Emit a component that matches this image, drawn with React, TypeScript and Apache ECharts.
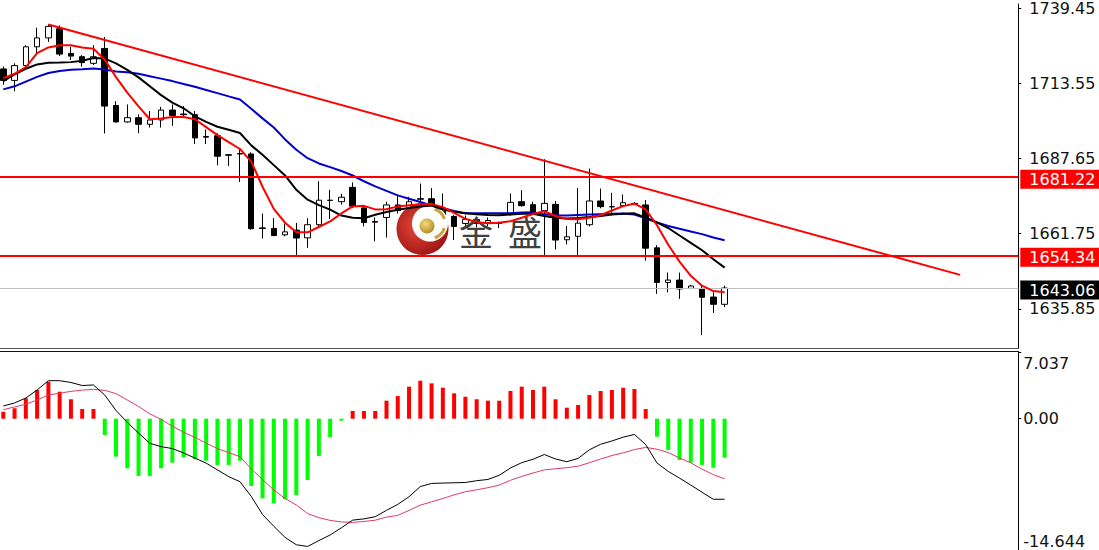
import React, { useEffect, useRef } from "react";
import * as echarts from "echarts";

// ---- price candles (index 0..64) ----
const opens = [
  1718.48, 1714.53, 1719.63, 1726.10, 1729.16, 1732.32, 1723.82, 1722.69, 1720.41, 1725.52,
  1705.89, 1700.24, 1701.70, 1699.42, 1700.92, 1704.32, 1702.96, 1702.72, 1695.24, 1695.47,
  1688.94, 1689.35, 1689.21, 1663.76, 1663.59, 1661.38, 1662.99, 1660.34, 1664.85, 1673.22,
  1672.78, 1677.71, 1670.64, 1665.97, 1667.33, 1671.66, 1669.38, 1673.80, 1673.80, 1669.38,
  1667.68, 1665.29, 1666.65, 1665.63, 1665.46, 1668.80, 1672.78, 1671.76, 1669.72, 1671.86,
  1659.68, 1660.87, 1664.85, 1673.02, 1671.08, 1671.42, 1672.20, 1671.66, 1656.89, 1644.98,
  1645.80, 1642.94, 1642.74, 1639.95, 1637.46,
];
const highs = [
  1719.29, 1720.41, 1726.64, 1732.66, 1733.79, 1733.45, 1726.10, 1723.24, 1726.64, 1729.50,
  1707.38, 1706.23, 1702.82, 1703.98, 1705.44, 1706.23, 1705.68, 1703.98, 1697.62, 1696.36,
  1689.21, 1691.15, 1689.79, 1668.70, 1667.10, 1665.29, 1665.46, 1667.10, 1679.82, 1676.86,
  1675.50, 1679.41, 1671.08, 1667.34, 1672.78, 1675.06, 1674.48, 1679.01, 1677.44, 1675.61,
  1668.26, 1668.01, 1667.68, 1667.34, 1665.97, 1675.61, 1676.76, 1672.78, 1687.41, 1673.02,
  1664.44, 1677.44, 1684.18, 1677.30, 1675.84, 1675.27, 1672.61, 1673.36, 1657.81, 1648.38,
  1648.38, 1644.20, 1644.43, 1641.58, 1643.86,
];
const lows = [
  1713.03, 1710.79, 1718.71, 1723.24, 1727.80, 1722.90, 1721.54, 1719.29, 1719.84, 1696.26,
  1700.00, 1700.00, 1696.36, 1698.30, 1698.30, 1698.88, 1701.70, 1692.61, 1692.61, 1685.27,
  1685.03, 1679.58, 1663.15, 1660.09, 1660.87, 1660.87, 1653.79, 1656.89, 1664.27, 1666.83,
  1671.76, 1670.57, 1664.27, 1659.17, 1660.43, 1668.70, 1668.36, 1671.08, 1670.23, 1665.80,
  1659.58, 1663.94, 1663.94, 1664.27, 1663.70, 1668.01, 1671.08, 1668.36, 1653.90, 1656.35,
  1658.05, 1654.19, 1664.27, 1670.50, 1668.01, 1671.08, 1671.59, 1652.47, 1641.03, 1641.58,
  1639.33, 1642.67, 1626.85, 1634.50, 1636.54,
];
const closes = [
  1714.53, 1719.63, 1726.10, 1729.16, 1733.11, 1723.58, 1722.90, 1720.65, 1722.69, 1705.68,
  1700.24, 1701.70, 1699.42, 1700.92, 1704.32, 1702.48, 1702.72, 1694.73, 1695.00, 1688.43,
  1688.77, 1689.21, 1663.49, 1663.59, 1661.14, 1662.40, 1660.27, 1664.85, 1673.29, 1673.29,
  1674.31, 1671.25, 1665.63, 1665.74, 1671.66, 1669.72, 1672.78, 1673.63, 1671.42, 1667.10,
  1664.27, 1666.65, 1665.29, 1666.31, 1665.29, 1672.54, 1671.42, 1668.80, 1672.20, 1659.58,
  1660.70, 1665.40, 1673.02, 1671.08, 1670.98, 1672.44, 1672.10, 1656.79, 1644.98, 1645.80,
  1642.74, 1643.76, 1639.88, 1637.46, 1643.06,
];

// ---- moving averages ----
const maFast = [
  1715.31, 1716.81, 1719.12, 1723.89, 1725.86, 1726.64, 1726.64, 1725.86, 1725.45, 1721.67,
  1715.65, 1710.31, 1705.58, 1701.16, 1701.39, 1701.91, 1701.91, 1701.16, 1698.43, 1695.68,
  1693.30, 1690.91, 1686.59, 1677.92, 1670.30, 1665.53, 1662.23, 1662.23, 1664.07, 1666.01,
  1668.73, 1671.15, 1671.35, 1670.13, 1670.16, 1671.11, 1671.52, 1671.89, 1672.03, 1670.91,
  1668.97, 1666.89, 1665.74, 1665.40, 1665.53, 1666.08, 1667.23, 1668.56, 1669.48, 1667.85,
  1666.83, 1666.76, 1667.27, 1668.12, 1669.75, 1671.25, 1672.10, 1670.16, 1664.68, 1657.98,
  1652.16, 1647.26, 1643.86, 1642.02, 1641.58,
];
const maMid = [
  1714.29, 1716.57, 1718.54, 1720.04, 1720.59, 1720.65, 1720.82, 1721.30, 1722.25, 1722.05,
  1720.38, 1718.17, 1715.58, 1712.52, 1709.46, 1706.87, 1704.93, 1702.18, 1700.24, 1698.57,
  1697.52, 1696.43, 1692.17, 1688.91, 1685.37, 1681.80, 1676.86, 1673.46, 1671.59, 1670.06,
  1668.02, 1667.27, 1667.10, 1668.29, 1669.24, 1669.99, 1670.57, 1671.15, 1671.45, 1670.09,
  1669.28, 1668.76, 1668.49, 1668.22, 1668.08, 1668.36, 1668.63, 1668.59, 1667.85, 1667.27,
  1666.96, 1667.20, 1667.50, 1667.88, 1668.39, 1668.59, 1668.76, 1667.27, 1665.67, 1663.73,
  1661.14, 1658.63, 1656.07, 1652.98, 1650.08,
];
const maSlow = [
  1711.43, 1712.49, 1714.12, 1715.75, 1717.08, 1717.79, 1718.20, 1718.37, 1718.61, 1718.31,
  1717.62, 1717.35, 1716.84, 1715.99, 1715.14, 1714.29, 1713.30, 1712.32, 1711.23, 1710.14,
  1709.02, 1707.93, 1704.76, 1701.46, 1698.30, 1694.22, 1690.64, 1687.75, 1685.95, 1684.69,
  1683.33, 1681.80, 1679.82, 1678.05, 1676.52, 1674.96, 1673.80, 1672.68, 1671.52, 1670.53,
  1669.58, 1668.80, 1668.80, 1668.80, 1668.80, 1668.80, 1669.04, 1669.17, 1668.42, 1668.12,
  1668.05, 1668.22, 1668.36, 1668.49, 1668.59, 1668.73, 1668.39, 1667.06, 1665.63, 1664.44,
  1663.46, 1662.50, 1661.62, 1660.43, 1659.51,
];

// ---- MACD panel ----
const macdHist = [
  0.74, 1.10, 2.15, 3.03, 3.90, 2.85, 2.05, 1.02, 1.02, -1.72,
  -4.01, -5.23, -6.04, -6.04, -5.23, -4.64, -4.07, -4.28, -4.43, -4.88,
  -4.88, -4.43, -7.10, -8.40, -8.92, -8.50, -8.05, -6.47, -3.93, -1.96,
  -0.21, 0.81, 0.81, 0.81, 1.90, 2.39, 3.38, 4.01, 3.73, 3.27,
  2.68, 2.32, 2.05, 1.90, 1.90, 2.92, 3.38, 3.03, 3.38, 2.05,
  1.16, 1.45, 2.50, 2.92, 3.03, 3.27, 3.13, 1.02, -1.90, -3.30,
  -4.36, -4.64, -4.88, -5.17, -4.11,
];
const macdLine = [
  1.34, 1.66, 2.18, 3.03, 4.01, 4.01, 3.82, 3.50, 3.56, 2.50,
  0.87, -0.39, -1.51, -2.60, -2.95, -3.15, -3.62, -4.15, -4.69, -5.40,
  -6.11, -6.65, -8.20, -10.11, -11.35, -12.52, -13.30, -13.48, -12.86, -12.27,
  -11.51, -10.70, -10.57, -10.34, -9.67, -9.04, -8.23, -7.16, -6.83, -6.79,
  -6.76, -6.73, -6.54, -6.41, -5.97, -5.20, -4.64, -4.28, -3.78, -4.25,
  -4.54, -4.19, -3.28, -2.70, -2.35, -1.95, -1.66, -2.73, -4.67, -5.56,
  -6.27, -7.00, -7.76, -8.50, -8.50,
];
const signalLine = [
  0.95, 1.24, 1.52, 1.98, 2.50, 2.69, 2.88, 3.02, 3.09, 2.99,
  2.65, 1.97, 1.29, 0.51, -0.07, -0.79, -1.43, -1.97, -2.58, -3.15,
  -3.57, -4.01, -5.28, -6.43, -7.51, -8.42, -9.10, -10.01, -10.44, -10.73,
  -10.89, -10.94, -10.84, -10.71, -10.38, -10.20, -9.68, -9.12, -8.77, -8.42,
  -8.03, -7.71, -7.50, -7.28, -7.00, -6.50, -6.09, -5.73, -5.40, -5.28,
  -5.17, -5.01, -4.65, -4.25, -3.89, -3.60, -3.26, -3.03, -3.22, -3.57,
  -4.14, -4.66, -5.32, -5.90, -6.34,
];

// ---- axes / levels ----
const priceTicks = [1635.85, 1661.75, 1687.65, 1713.55, 1739.45];
const macdTicks = [-14.644, 0, 7.037];
const resistanceLevel = 1681.22;
const supportLevel = 1654.34;
const lastPrice = 1643.06;
const trendStart = [4, 1733.79];
const trendEnd = [84.9, 1647.6];

const PRICE_MIN = 1622.42;
const PRICE_MAX = 1740.83;
const MACD_MIN = -14.644;
const MACD_MAX = 7.037;
const X_MIN = -0.293;
const X_MAX = 90.06;

const FONT = "'DejaVu Sans', Verdana, sans-serif";
const CJK = "'Noto Sans CJK SC', sans-serif";

export default function App() {
  const ref = useRef<HTMLDivElement>(null);

  useEffect(() => {
    if (!ref.current) return;
    const chart = echarts.init(ref.current, undefined, { renderer: "svg" });

    const candleRows = opens.map((o, i) => [i, o, closes[i], lows[i], highs[i]]);
    const toPts = (arr: number[]) => arr.map((v, i) => [i, v]);

    const tagLabel = (bg: string) => ({
      show: true,
      position: "end",
      distance: 2,
      formatter: (p: any) => Number(p.value).toFixed(2),
      backgroundColor: bg,
      color: "#ffffff",
      fontFamily: FONT,
      fontSize: 16,
      lineHeight: 16,
      padding: [2, 12, 1, 9],
      offset: [0, 2],
    });

    const macdRich = {
      t: { fontFamily: FONT, fontSize: 16, color: "#111", padding: [22, 0, 0, 0] },
      m: { fontFamily: FONT, fontSize: 16, color: "#111" },
      b: { fontFamily: FONT, fontSize: 16, color: "#111", padding: [0, 0, 32, 0] },
    };

    const option: any = {
      animation: false,
      backgroundColor: "#ffffff",
      grid: [
        { left: 0, top: 0, width: 1018.3, height: 348 },
        { left: 0, top: 352, width: 1018.3, height: 205.5 },
      ],
      xAxis: [
        { type: "value", gridIndex: 0, min: X_MIN, max: X_MAX, show: false },
        { type: "value", gridIndex: 1, min: X_MIN, max: X_MAX, show: false },
      ],
      yAxis: [
        {
          type: "value",
          gridIndex: 0,
          position: "right",
          min: PRICE_MIN,
          max: PRICE_MAX,
          axisLine: { show: true, onZero: false, lineStyle: { color: "#000", width: 1 } },
          axisTick: { show: true, length: 3, customValues: priceTicks, lineStyle: { color: "#000" } },
          axisLabel: {
            show: true,
            customValues: priceTicks,
            margin: 11,
            color: "#111",
            fontFamily: FONT,
            fontSize: 16,
            formatter: (v: number) => v.toFixed(2),
          },
          splitLine: { show: false },
        },
        {
          type: "value",
          gridIndex: 1,
          position: "right",
          min: MACD_MIN,
          max: MACD_MAX,
          axisLine: { show: true, onZero: false, lineStyle: { color: "#000", width: 1 } },
          axisTick: { show: true, length: 3, customValues: macdTicks, lineStyle: { color: "#000" } },
          axisLabel: {
            show: true,
            customValues: macdTicks,
            margin: 5,
            color: "#111",
            fontFamily: FONT,
            fontSize: 16,
            rich: macdRich,
            formatter: (v: number) =>
              v === MACD_MAX ? `{t|${v.toFixed(3)}}` : v === MACD_MIN ? `{b|${v.toFixed(3)}}` : `{m|${v.toFixed(2)}}`,
          },
          splitLine: { show: false },
        },
      ],
      series: [
        {
          type: "candlestick",
          xAxisIndex: 0,
          yAxisIndex: 0,
          data: candleRows,
          encode: { x: 0, y: [1, 2, 3, 4] },
          barWidth: 6,
          z: 2,
          itemStyle: {
            color: "#ffffff",
            color0: "#000000",
            borderColor: "#000000",
            borderColor0: "#000000",
            borderWidth: 1,
          },
          markLine: {
            silent: true,
            symbol: "none",
            animation: false,
            data: [
              { yAxis: resistanceLevel, lineStyle: { color: "#ff0000", width: 2, type: "solid" }, label: tagLabel("#ff0000") },
              { yAxis: supportLevel, lineStyle: { color: "#ff0000", width: 2, type: "solid" }, label: tagLabel("#ff0000") },
              { yAxis: lastPrice, lineStyle: { color: "#c0c0c0", width: 1, type: "solid" }, label: tagLabel("#000000") },
              [
                { coord: trendStart, lineStyle: { color: "#ff0000", width: 2, type: "solid" }, label: { show: false } },
                { coord: trendEnd },
              ],
            ],
          },
        },
        {
          type: "line",
          xAxisIndex: 0,
          yAxisIndex: 0,
          data: toPts(maSlow),
          showSymbol: false,
          z: 4,
          lineStyle: { color: "#0000cc", width: 2 },
        },
        {
          type: "line",
          xAxisIndex: 0,
          yAxisIndex: 0,
          data: toPts(maMid),
          showSymbol: false,
          z: 4,
          lineStyle: { color: "#000000", width: 2 },
        },
        {
          type: "line",
          xAxisIndex: 0,
          yAxisIndex: 0,
          data: toPts(maFast),
          showSymbol: false,
          z: 5,
          lineStyle: { color: "#ff0000", width: 2 },
        },
        {
          type: "bar",
          xAxisIndex: 1,
          yAxisIndex: 1,
          barWidth: 4,
          data: macdHist.map((v, i) => ({
            value: [i, v],
            itemStyle: { color: v >= 0 ? "#ff0000" : "#00ff00" },
          })),
        },
        {
          type: "line",
          xAxisIndex: 1,
          yAxisIndex: 1,
          data: toPts(signalLine),
          showSymbol: false,
          z: 4,
          lineStyle: { color: "#dc3c64", width: 1 },
        },
        {
          type: "line",
          xAxisIndex: 1,
          yAxisIndex: 1,
          data: toPts(macdLine),
          showSymbol: false,
          z: 5,
          lineStyle: { color: "#000000", width: 1 },
        },
      ],
      graphic: [
        { type: "line", z: 10, shape: { x1: 0, y1: 348.5, x2: 1019, y2: 348.5 }, style: { stroke: "#555", lineWidth: 1 } },
        { type: "line", z: 10, shape: { x1: 0, y1: 351.5, x2: 1019, y2: 351.5 }, style: { stroke: "#111", lineWidth: 1 } },
        {
          type: "circle",
          z: 3,
          shape: { cx: 422.5, cy: 229, r: 26 },
          style: {
            fill: new echarts.graphic.RadialGradient(0.4, 0.45, 0.7, [
              { offset: 0, color: "#e8473a" },
              { offset: 1, color: "#920d0d" },
            ]),
          },
        },
        { type: "circle", z: 3, shape: { cx: 430, cy: 223.5, r: 18 }, style: { fill: "#ffffff" } },
        {
          type: "arc",
          z: 3,
          shape: { cx: 430, cy: 223.5, r: 15, startAngle: -1.25, endAngle: -0.3 },
          style: { stroke: "#c9a43a", lineWidth: 3, fill: "none" },
        },
        {
          type: "arc",
          z: 3,
          shape: { cx: 430, cy: 223.5, r: 15, startAngle: 0.3, endAngle: 1.25 },
          style: { stroke: "#c9a43a", lineWidth: 3, fill: "none" },
        },
        {
          type: "circle",
          z: 3,
          shape: { cx: 427, cy: 226, r: 7.5 },
          style: {
            fill: new echarts.graphic.RadialGradient(0.4, 0.35, 0.7, [
              { offset: 0, color: "#f3dc7a" },
              { offset: 1, color: "#b08a22" },
            ]),
          },
        },
        {
          type: "text",
          z: 3,
          x: 476,
          y: 231,
          style: {
            text: "金",
            font: `34px ${CJK}`,
            fill: "#404040",
            align: "center",
            verticalAlign: "middle",
            textAlign: "center",
            textVerticalAlign: "middle",
          },
        },
        {
          type: "text",
          z: 3,
          x: 525,
          y: 231,
          style: {
            text: "盛",
            font: `34px ${CJK}`,
            fill: "#404040",
            align: "center",
            verticalAlign: "middle",
            textAlign: "center",
            textVerticalAlign: "middle",
          },
        },
      ],
    };

    chart.setOption(option);
    return () => chart.dispose();
  }, []);

  return (
    <div
      style={{
        position: "absolute",
        left: 0,
        top: 0,
        width: 1099,
        height: 550,
        overflow: "hidden",
        background: "#fff",
      }}
    >
      <div ref={ref} style={{ width: 1099, height: 560 }} />
    </div>
  );
}
